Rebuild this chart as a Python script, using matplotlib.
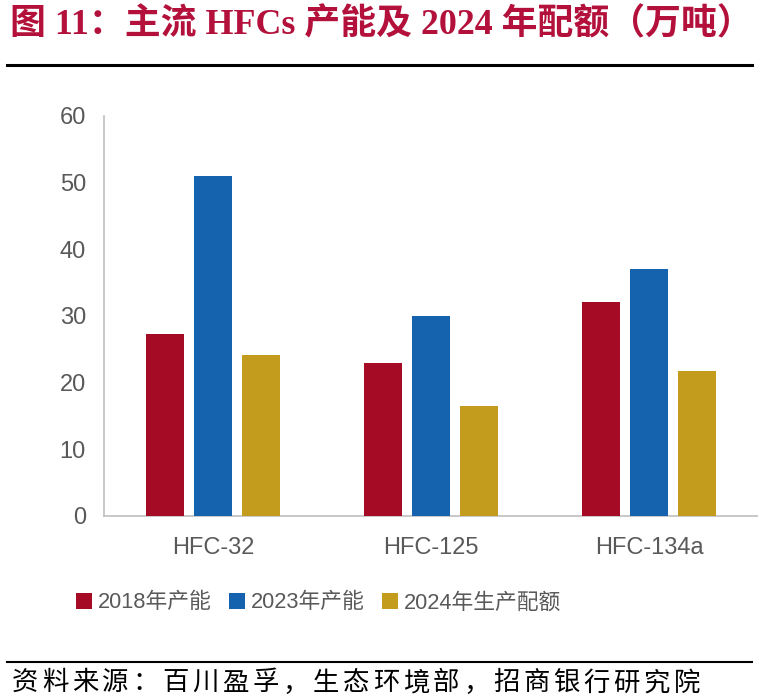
import matplotlib
matplotlib.use("Agg")
import matplotlib.pyplot as plt
from matplotlib.lines import Line2D
from matplotlib.patches import Patch
import numpy as np

categories = ["HFC-32", "HFC-125", "HFC-134a"]
series_names = ["2018年产能", "2023年产能", "2024年生产配额"]
cap_2018 = [27.3, 22.9, 32.0]
cap_2023 = [50.9, 30.0, 37.0]
quota_2024 = [24.1, 16.5, 21.7]
y_ticks = [0, 10, 20, 30, 40, 50, 60]
title_text = "图 11：主流 HFCs 产能及 2024 年配额（万吨）"
source_text = "资料来源：百川盈孚，生态环境部，招商银行研究院"

colors = ["#A50B24", "#1563AF", "#C39C1E"]
grey_txt = "#595959"
spine_c = "#BFBFBF"
W, H = 758, 698
fam = ["Liberation Sans", "Noto Sans CJK SC", "DejaVu Sans"]

fig = plt.figure(figsize=(W / 100, H / 100), dpi=100)
ax = fig.add_axes([104 / W, 1 - 516 / H, 1 - 104 / W, (516 - 115.5) / H])

x = np.arange(len(categories))
bw = 0.174
off = 0.222
for i, (vals, c) in enumerate(zip([cap_2018, cap_2023, quota_2024], colors)):
    ax.bar(x + (i - 1) * off, vals, width=bw, color=c, zorder=3)

ax.set_xlim(-0.5, 2.5)
ax.set_ylim(0, 60)
ax.set_yticks(y_ticks)
ax.set_xticks(x)
ax.set_xticklabels(categories)
for s in ["top", "right"]:
    ax.spines[s].set_visible(False)
ax.spines["left"].set_color(spine_c)
ax.spines["bottom"].set_color(spine_c)
ax.spines["left"].set_linewidth(1.2)
ax.spines["bottom"].set_linewidth(1.2)
ax.tick_params(axis="both", length=0, labelcolor=grey_txt, labelsize=17)
ax.tick_params(axis="y", pad=13)
ax.tick_params(axis="x", pad=15)
for lab in ax.get_xticklabels() + ax.get_yticklabels():
    lab.set_family(fam)

handles = [Patch(facecolor=c, edgecolor="none") for c in colors]
leg = fig.legend(handles, series_names, loc="center left",
                 bbox_to_anchor=(61 / W, 1 - 603 / H), ncol=3, frameon=False,
                 handlelength=0.7, handleheight=0.7, handletextpad=0.3,
                 columnspacing=0.8, borderpad=0.2,
                 prop={"family": fam, "size": 15.7})
for t in leg.get_texts():
    t.set_color(grey_txt)

# Title
fig.text(10 / W, 1 - 25 / H, title_text, ha="left", va="center",
         fontsize=25.8, fontweight="bold", color="#B3113B",
         family=["Liberation Serif", "Noto Sans CJK SC", "DejaVu Sans"])

# rules
fig.add_artist(Line2D([7 / W, 752 / W], [1 - 65 / H, 1 - 65 / H],
                      color="black", linewidth=2.2, transform=fig.transFigure))
fig.add_artist(Line2D([7 / W, 752 / W], [1 - 662 / H, 1 - 662 / H],
                      color="black", linewidth=1.5, transform=fig.transFigure))

# Source text with character tracking
def tracked_text(x0, x1, yc, s, **kw):
    renderer = fig.canvas.get_renderer()
    widths = []
    for ch in s:
        t = fig.text(0, 0, ch, **kw)
        bb = t.get_window_extent(renderer=renderer)
        widths.append(bb.width)
        t.remove()
    gap = (x1 - x0 - sum(widths)) / max(len(s) - 1, 1)
    pos = x0
    for ch, w in zip(s, widths):
        fig.text(pos / W, 1 - yc / H, ch, ha="left", va="center", **kw)
        pos += w + gap

tracked_text(12, 700, 683, source_text, fontsize=19, color="black",
             family=["Noto Sans CJK SC", "DejaVu Sans"])

fig.savefig("out.png", dpi=100)
